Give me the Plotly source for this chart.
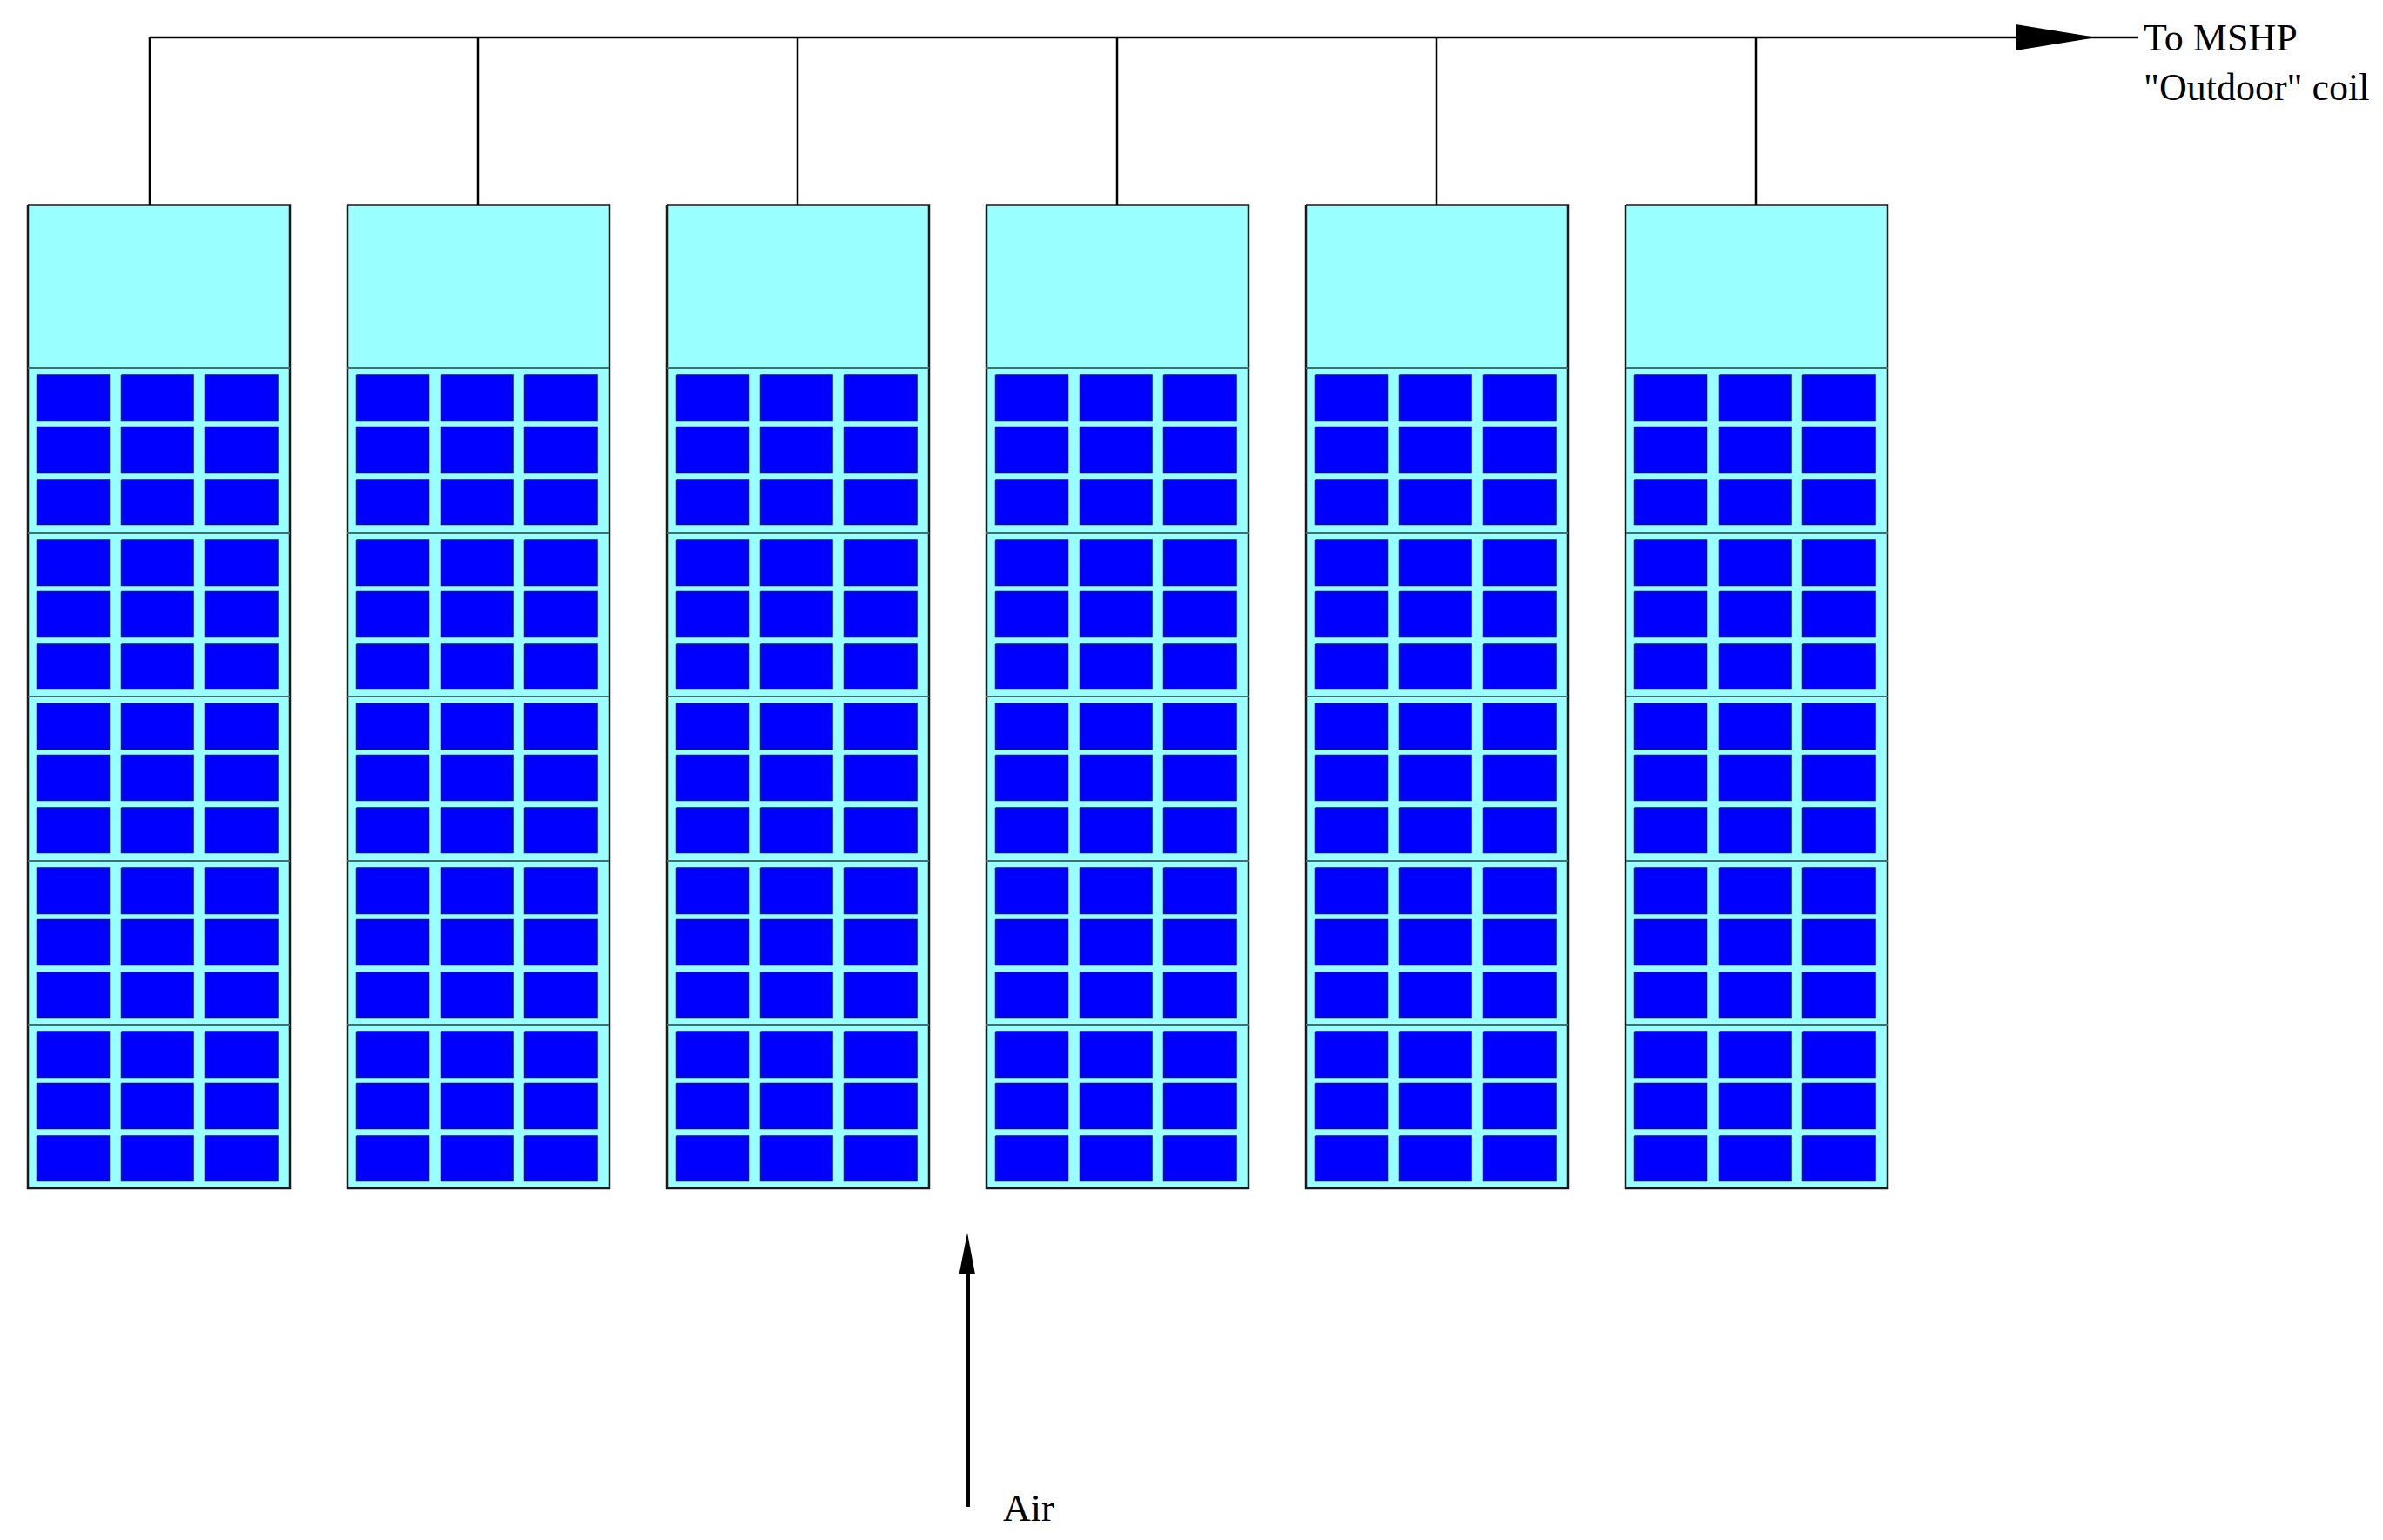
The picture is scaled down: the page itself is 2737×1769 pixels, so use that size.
import plotly.graph_objects as go

# Schematic (diagram units = reference pixels)
unit_left = [32, 399, 766, 1133, 1500, 1867]
riser_x = [172, 549, 916, 1283, 1650, 2017]
unit_top = 235.5
unit_bottom = 1365
header_y = 43
header_end_x = 2456
section_tops = [423, 612, 800, 989, 1177]
cell_x_offsets = [(10.5, 93.5), (107.5, 190), (203.5, 287)]
cell_y_offsets = [(8, 60.5), (67.5, 119.5), (128, 179.5)]
unit_width = 301
labels = ['To MSHP', '"Outdoor" coil', 'Air']
label_x = [2462, 2462, 1152]
label_y = [47, 104, 1736]
outlet_arrow_x = [2315, 2408, 2315, 2315]
outlet_arrow_y = [28, 43, 58, 28]
air_line_x = [1111.5, 1111.5]
air_line_y = [1731, 1460]
air_head_x = [1101.5, 1111, 1120, 1101.5]
air_head_y = [1464, 1416, 1464, 1464]

def rect_path(x0, x1, y0, y1):
    return [x0, x1, x1, x0, x0, None], [y0, y0, y1, y1, y0, None]

ux, uy, dx, dy, cx, cy, px, py = [], [], [], [], [], [], [], []
for left, rx in zip(unit_left, riser_x):
    a, b = rect_path(left, left + unit_width, unit_top, unit_bottom)
    ux += a; uy += b
    px += [rx, rx, None]; py += [header_y, unit_top, None]
    for top in section_tops:
        dx += [left, left + unit_width, None]; dy += [top, top, None]
        for x0, x1 in cell_x_offsets:
            for y0, y1 in cell_y_offsets:
                a, b = rect_path(left + x0, left + x1, top + y0, top + y1)
                cx += a; cy += b
px += [riser_x[0], header_end_x, None]; py += [header_y, header_y, None]

fig = go.Figure()
fig.add_trace(go.Scatter(x=ux, y=uy, mode="lines", fill="toself", fillcolor="#99ffff",
                         line=dict(color="#1a1a1a", width=2.5), hoverinfo="skip", name="Unit"))
fig.add_trace(go.Scatter(x=dx, y=dy, mode="lines", line=dict(color="#3f6f6f", width=2),
                         hoverinfo="skip", name="Section divider"))
fig.add_trace(go.Scatter(x=cx, y=cy, mode="lines", fill="toself", fillcolor="#0000ff",
                         line=dict(color="#00109a", width=1.5), hoverinfo="skip", name="Cell"))
fig.add_trace(go.Scatter(x=px, y=py, mode="lines", line=dict(color="black", width=2.5),
                         hoverinfo="skip", name="Pipe"))
fig.add_trace(go.Scatter(x=outlet_arrow_x, y=outlet_arrow_y, mode="lines", fill="toself",
                         fillcolor="black", line=dict(color="black", width=0), hoverinfo="skip", name="Outlet"))
fig.add_trace(go.Scatter(x=air_line_x, y=air_line_y, mode="lines", line=dict(color="black", width=5),
                         hoverinfo="skip", name="Air"))
fig.add_trace(go.Scatter(x=air_head_x, y=air_head_y, mode="lines", fill="toself",
                         fillcolor="black", line=dict(color="black", width=0), hoverinfo="skip", name="Air head"))
fig.add_trace(go.Scatter(x=label_x, y=label_y, mode="text", text=labels, textposition="middle right",
                         textfont=dict(family="Liberation Serif", size=44, color="black"),
                         hoverinfo="skip", name="Labels", cliponaxis=False))

fig.update_layout(width=2737, height=1769, margin=dict(l=0, r=0, t=0, b=0),
                  paper_bgcolor="white", plot_bgcolor="white", showlegend=False,
                  xaxis=dict(range=[0, 2737], visible=False, fixedrange=True),
                  yaxis=dict(range=[1769, 0], visible=False, fixedrange=True))
fig.write_html("out.html", post_script="document.body.style.margin='0';document.body.style.overflow='hidden';",
               config={"displayModeBar": False})
